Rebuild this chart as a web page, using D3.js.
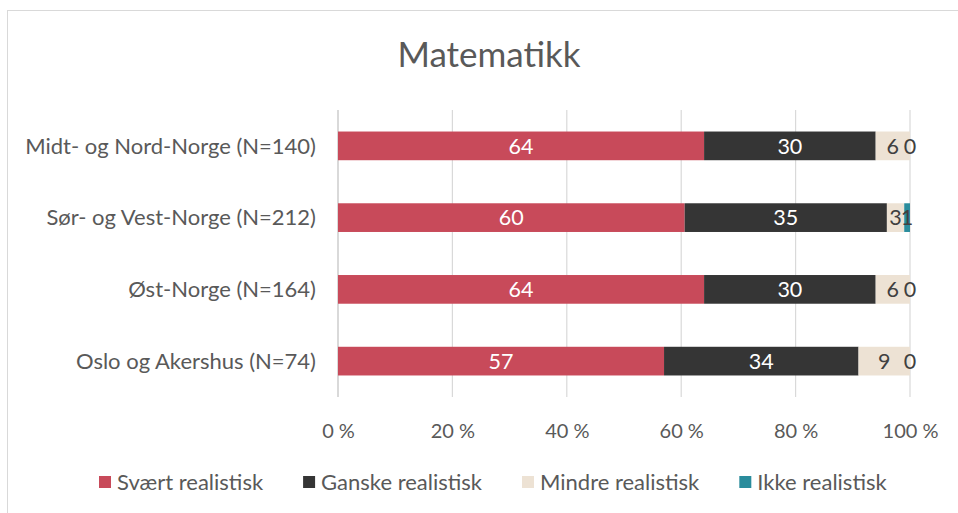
<!DOCTYPE html>
<html>
<head>
<meta charset="utf-8">
<title>Matematikk</title>
<script src="https://d3js.org/d3.v7.min.js"></script>
<style>
  body { margin: 0; background: #fff; }
  text { font-family: Lato, "Open Sans", sans-serif; }
</style>
</head>
<body>
<script>
  var categories = ["Midt- og Nord-Norge (N=140)", "Sør- og Vest-Norge (N=212)", "Øst-Norge (N=164)", "Oslo og Akershus (N=74)"];
  var seriesNames = ["Svært realistisk", "Ganske realistisk", "Mindre realistisk", "Ikke realistisk"];
  var svaert = [64, 60, 64, 57];
  var ganske = [30, 35, 30, 34];
  var mindre = [6, 3, 6, 9];
  var ikke = [0, 1, 0, 0];
  var ticks = [0, 0.2, 0.4, 0.6, 0.8, 1];
  var colors = ["#c84a5a", "#353535", "#ede2d4", "#2a8c9c"];
  var labelColors = ["#ffffff", "#ffffff", "#404040", "#404040"];

  var width = 958, height = 513;
  var svg = d3.select("body").append("svg").attr("width", width).attr("height", height);

  // chart frame
  svg.append("rect")
    .attr("x", 7.5).attr("y", 10.5)
    .attr("width", 980).attr("height", 540)
    .attr("fill", "none").attr("stroke", "#d9d9d9");

  svg.append("text")
    .attr("x", 489).attr("y", 67)
    .attr("text-anchor", "middle")
    .attr("fill", "#595959")
    .style("font-size", "35px")
    .text("Matematikk");

  var rows = categories.map(function(c, i) {
    return { cat: c, s0: svaert[i], s1: ganske[i], s2: mindre[i], s3: ikke[i] };
  });
  var keys = ["s0", "s1", "s2", "s3"];
  var stack = d3.stack().keys(keys).offset(d3.stackOffsetExpand);
  var layers = stack(rows);

  var x = d3.scaleLinear().domain([0, 1]).range([338, 910]);
  var y = d3.scaleBand().domain(categories).range([110, 397]).paddingInner(0.6).paddingOuter(0.3);

  // gridlines
  svg.append("g").selectAll("line")
    .data(ticks)
    .enter().append("line")
    .attr("x1", function(d) { return x(d); })
    .attr("x2", function(d) { return x(d); })
    .attr("y1", 110).attr("y2", 397)
    .attr("stroke", "#d9d9d9")
    .attr("stroke-width", function(d) { return d === 0 ? 2 : 1.2; });

  var xAxis = d3.axisBottom(x).tickValues(ticks).tickSize(0).tickPadding(0)
    .tickFormat(function(d) { return Math.round(d * 100) + " %"; });
  var gx = svg.append("g").attr("transform", "translate(0,420)").call(xAxis);
  gx.select(".domain").remove();
  gx.selectAll("text").attr("fill", "#595959").style("font-size", "20px").attr("dy", "0.9em");

  var yAxis = d3.axisLeft(y).tickSize(0).tickPadding(0);
  var gy = svg.append("g").attr("transform", "translate(316,0)").call(yAxis);
  gy.select(".domain").remove();
  gy.selectAll("text").attr("fill", "#595959").style("font-size", "22px").attr("dy", "0.35em");

  var g = svg.append("g").selectAll("g")
    .data(layers)
    .enter().append("g")
    .attr("fill", function(d, i) { return colors[i]; });

  g.selectAll("rect")
    .data(function(d) { return d; })
    .enter().append("rect")
    .attr("x", function(d) { return x(d[0]); })
    .attr("width", function(d) { return x(d[1]) - x(d[0]); })
    .attr("y", function(d) { return y(d.data.cat); })
    .attr("height", y.bandwidth());

  layers.forEach(function(layer, i) {
    svg.append("g").selectAll("text")
      .data(layer)
      .enter().append("text")
      .attr("x", function(d) { return (x(d[0]) + x(d[1])) / 2; })
      .attr("y", function(d) { return y(d.data.cat) + y.bandwidth() / 2; })
      .attr("dy", "0.36em")
      .attr("text-anchor", "middle")
      .attr("fill", labelColors[i])
      .style("font-size", "21.5px")
      .text(function(d) { return d.data[keys[i]]; });
  });

  // legend
  var legend = svg.append("g").attr("transform", "translate(0,482)");
  var lx = 99;
  seriesNames.forEach(function(name, i) {
    var item = legend.append("g").attr("transform", "translate(" + lx + ",0)");
    item.append("rect").attr("x", 0).attr("y", -6).attr("width", 12).attr("height", 12).attr("fill", colors[i]);
    var t = item.append("text").attr("x", 18).attr("dy", "0.35em")
      .attr("fill", "#595959").style("font-size", "22px").text(name);
    lx += 18 + t.node().getComputedTextLength() + 40;
  });
</script>
</body>
</html>
